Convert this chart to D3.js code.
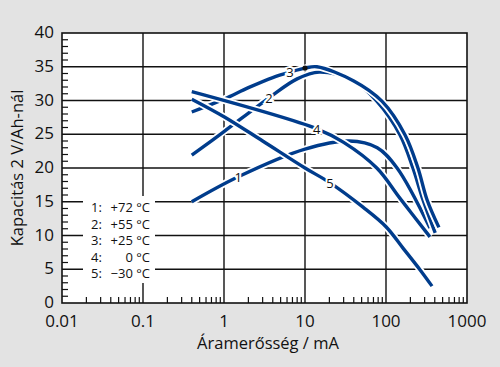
<!DOCTYPE html>
<html><head><meta charset="utf-8">
<script src="https://cdn.jsdelivr.net/npm/d3@7"></script>
<style>
html,body{margin:0;padding:0;background:#e3e3e3;}
svg{display:block;font-family:"Open Sans",sans-serif;}
</style></head>
<body>
<script>
// ---- data ----
const xTicks = [0.01, 0.1, 1, 10, 100, 1000];
const xTickLabels = ["0.01", "0.1", "1", "10", "100", "1000"];
const yTicks = [0, 5, 10, 15, 20, 25, 30, 35, 40];
const seriesNames = ["1", "2", "3", "4", "5"];
const legendLabels = ["+72 °C", "+55 °C", "+25 °C", "0 °C", "−30 °C"];
const legendKeys = ["1:", "2:", "3:", "4:", "5:"];
const curve1 = [[0.4,15.0],[1.5,18.7],[10,22.8],[35,24.0],[78,23.0],[137,20.0],[349,11.1]];
const curve2 = [[0.4,21.9],[1,25.4],[3.6,30.4],[8,33.2],[15,34.2],[39,33.0],[77,29.9],[149,24.9],[215,20.0],[286,15.3],[405,10.4]];
const curve3 = [[0.4,28.3],[1,30.2],[2,31.9],[4,33.4],[6.5,34.2],[10,34.8],[14,35.0],[40,32.9],[89,29.9],[172,24.9],[248,20.0],[321,15.3],[450,11.2]];
const curve4 = [[0.4,31.3],[14,25.8],[30,23.8],[77,20.0],[149,15.5],[349,9.8]];
const curve5 = [[0.4,30.2],[1,27.6],[3,24.0],[10,20.0],[20.4,17.8],[52,14.2],[100,11.3],[163,8.1],[264,4.9],[370,2.5]];
const curves = [curve1, curve2, curve3, curve4, curve5];
const labelPos = [[1.5,18.7],[3.6,30.4],[6.5,34.2],[14,25.8],[20.4,17.8]];
const dotPoint = [10, 34.8];

// ---- layout ----
const W = 500, H = 367;
const L = 62, R = 467, T = 33, B = 303;
const svg = d3.select("body").append("svg").attr("width", W).attr("height", H);
svg.append("rect").attr("width", W).attr("height", H).attr("fill", "#e3e3e3");

const x = d3.scaleLog().domain([0.01, 1000]).range([L, R]);
const y = d3.scaleLinear().domain([0, 40]).range([B, T]);

svg.append("rect").attr("x", L).attr("y", T).attr("width", R - L).attr("height", B - T).attr("fill", "#fff");

const g = svg.append("g");
// grid
g.selectAll(".vg").data(xTicks.slice(1, -1)).enter().append("line")
  .attr("x1", d => x(d)).attr("x2", d => x(d)).attr("y1", T).attr("y2", B)
  .attr("stroke", "#111").attr("stroke-width", 1.4);
g.selectAll(".hg").data(yTicks.slice(1, -1)).enter().append("line")
  .attr("x1", L).attr("x2", R).attr("y1", d => y(d)).attr("y2", d => y(d))
  .attr("stroke", "#111").attr("stroke-width", 1.4);

// minor ticks
const xMinor = [];
for (let e = -2; e < 3; e++) for (let m = 2; m <= 9; m++) xMinor.push(m * Math.pow(10, e));
g.selectAll(".xm").data(xMinor).enter().append("line")
  .attr("x1", d => x(d)).attr("x2", d => x(d)).attr("y1", B).attr("y2", B - 6)
  .attr("stroke", "#111").attr("stroke-width", 1.2);
const yMinor = d3.range(1, 40).filter(v => v % 5 !== 0);
g.selectAll(".ym").data(yMinor).enter().append("line")
  .attr("x1", L).attr("x2", L + 6).attr("y1", d => y(d)).attr("y2", d => y(d))
  .attr("stroke", "#111").attr("stroke-width", 1.2);

// legend box (white background)
const lg = svg.append("g");
lg.append("rect").attr("x", 83).attr("y", 196).attr("width", 72).attr("height", 87).attr("fill", "#fff");
legendKeys.forEach((k, i) => {
  lg.append("text").attr("x", 91).attr("y", 212 + i * 16.6).attr("font-size", 13).attr("fill", "#111").text(k);
  lg.append("text").attr("x", 150).attr("y", 212 + i * 16.6).attr("font-size", 13).attr("fill", "#111")
    .attr("text-anchor", "end").text(legendLabels[i]);
});

// curves
const line = d3.line().x(d => x(d[0])).y(d => y(d[1])).curve(d3.curveCatmullRom.alpha(0.5));
const cg = svg.append("g");
curves.forEach(c => {
  cg.append("path").attr("d", line(c)).attr("fill", "none").attr("stroke", "#fff").attr("stroke-width", 7);
  cg.append("path").attr("d", line(c)).attr("fill", "none").attr("stroke", "#003c8c").attr("stroke-width", 3.4);
});

// curve labels
labelPos.forEach((p, i) => {
  cg.append("text").attr("x", x(p[0])).attr("y", y(p[1]) + 5).attr("text-anchor", "middle")
    .attr("font-size", 13).attr("fill", "#111").attr("stroke", "#fff").attr("stroke-width", 4)
    .attr("paint-order", "stroke").text(seriesNames[i]);
});
cg.append("circle").attr("cx", x(dotPoint[0])).attr("cy", y(dotPoint[1])).attr("r", 2.6).attr("fill", "#111");

// frame
svg.append("rect").attr("x", L).attr("y", T).attr("width", R - L).attr("height", B - T)
  .attr("fill", "none").attr("stroke", "#111").attr("stroke-width", 1.6);

// tick labels
svg.selectAll(".xl").data(xTicks).enter().append("text")
  .attr("x", d => x(d)).attr("y", 327).attr("text-anchor", "middle").attr("font-size", 17).attr("fill", "#111")
  .text((d, i) => xTickLabels[i]);
svg.selectAll(".yl").data(yTicks).enter().append("text")
  .attr("x", 54).attr("y", d => y(d) + 5).attr("text-anchor", "end").attr("font-size", 17).attr("fill", "#111")
  .text(d => d);

// axis titles
svg.append("text").attr("x", 268).attr("y", 349).attr("text-anchor", "middle").attr("font-size", 16.5).attr("fill", "#111")
  .text("Áramerősség / mA");
svg.append("text").attr("transform", "translate(23,168) rotate(-90)").attr("text-anchor", "middle")
  .attr("font-size", 16.5).attr("fill", "#111").text("Kapacitás 2 V/Ah-nál");
</script>
</body></html>
